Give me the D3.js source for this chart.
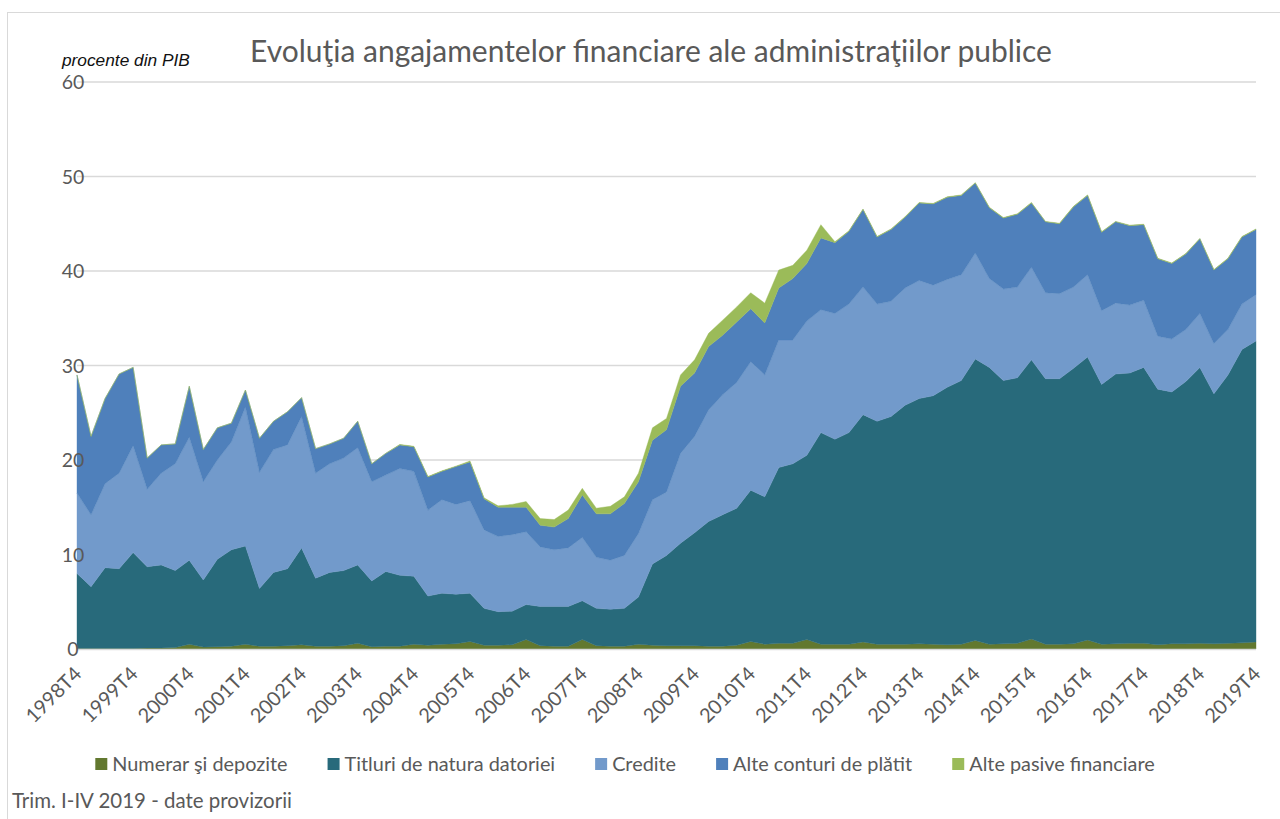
<!DOCTYPE html>
<html>
<head>
<meta charset="utf-8">
<script src="https://cdn.jsdelivr.net/npm/d3@7/dist/d3.min.js"></script>
<style>
body { margin: 0; background: #fff; }
svg { display: block; }
text { font-family: Lato, "Open Sans", sans-serif; fill: #595959; }
</style>
</head>
<body>
<svg class="chart"></svg>
<script>
var width = 1280,
    height = 819;

// quarters 1998T4 .. 2019T4
var quarters = ["1998T4"];
for (var yr = 1999; yr <= 2019; yr++) {
  for (var q = 1; q <= 4; q++) quarters.push(yr + "T" + q);
}

var tickLabels = ["1998T4", "1999T4", "2000T4", "2001T4", "2002T4", "2003T4", "2004T4",
  "2005T4", "2006T4", "2007T4", "2008T4", "2009T4", "2010T4", "2011T4", "2012T4",
  "2013T4", "2014T4", "2015T4", "2016T4", "2017T4", "2018T4", "2019T4"];

var yTicks = [0, 10, 20, 30, 40, 50, 60];

var seriesNames = ["Numerar şi depozite", "Titluri de natura datoriei", "Credite",
  "Alte conturi de plătit", "Alte pasive financiare"];

var numerar = [0.05,0.05,0.05,0.05,0.05,0.1,0.1,0.15,0.5,0.2,
  0.25,0.3,0.5,0.3,0.3,0.35,0.45,0.3,0.3,0.35,
  0.6,0.25,0.3,0.3,0.5,0.4,0.5,0.55,0.8,0.4,
  0.4,0.45,1.0,0.35,0.3,0.3,1.0,0.35,0.3,0.3,
  0.5,0.4,0.35,0.35,0.35,0.3,0.3,0.4,0.8,0.5,
  0.6,0.6,1.0,0.5,0.5,0.5,0.75,0.5,0.5,0.5,
  0.55,0.5,0.45,0.5,0.9,0.5,0.55,0.6,1.05,0.5,
  0.5,0.55,0.95,0.5,0.55,0.6,0.6,0.45,0.55,0.55,
  0.6,0.55,0.6,0.65,0.75];

var titluri = [7.95,6.55,8.55,8.45,10.15,8.6,8.8,8.15,8.9,7.1,
  9.25,10.2,10.4,6.1,7.8,8.15,10.25,7.2,7.8,7.95,
  8.3,6.95,7.9,7.5,7.2,5.2,5.4,5.25,5.1,3.9,
  3.55,3.55,3.7,4.15,4.2,4.2,4.1,3.95,3.9,4.0,
  5.0,8.6,9.55,10.85,11.95,13.2,13.9,14.5,16.0,15.6,
  18.6,19.0,19.5,22.4,21.7,22.4,24.05,23.6,24.1,25.3,
  25.95,26.3,27.25,27.9,29.8,29.3,27.85,28.1,29.55,28.1,
  28.1,29.15,29.95,27.5,28.55,28.6,29.2,27.05,26.65,27.75,
  29.2,26.45,28.4,31.05,31.85];

var credite = [8.5,7.6,8.9,10.1,11.3,8.2,9.7,11.3,13.0,10.4,
  10.5,11.4,14.7,12.3,13.0,13.1,13.9,11.1,11.5,11.9,
  12.4,10.5,10.2,11.3,11.1,9.1,9.9,9.5,9.8,8.3,
  7.95,8.1,7.7,6.3,6.0,6.2,6.7,5.4,5.2,5.6,
  6.7,6.8,6.7,9.5,10.2,11.8,12.7,13.3,13.6,12.9,
  13.5,13.1,14.2,13.0,13.3,13.6,13.5,12.4,12.2,12.4,
  12.5,11.7,11.4,11.2,11.2,9.4,9.7,9.6,9.8,9.1,
  9.0,8.6,8.7,7.8,7.5,7.2,7.1,5.6,5.6,5.5,
  5.7,5.3,4.8,4.8,4.9];

var alteConturi = [12.5,8.3,9.0,10.5,8.3,3.3,3.0,2.1,5.4,3.4,
  3.4,2.0,1.8,3.6,3.0,3.5,2.0,2.6,2.1,2.1,
  2.8,1.9,2.3,2.5,2.6,3.5,3.0,4.0,4.1,3.3,
  3.1,2.9,2.6,2.3,2.4,3.1,4.5,4.6,4.9,5.5,
  5.5,6.3,6.6,7.1,6.7,6.7,6.3,6.4,5.6,5.5,
  5.5,6.5,6.1,7.6,7.5,7.7,8.2,7.1,7.6,7.5,
  8.2,8.6,8.7,8.4,7.4,7.5,7.5,7.7,6.8,7.5,
  7.4,8.5,8.4,8.3,8.6,8.4,8.0,8.2,8.0,8.0,
  7.9,7.8,7.5,7.1,6.9];

var altePasive = [0,0,0,0,0,0,0,0,0,0,
  0,0,0,0,0,0,0,0,0,0,
  0,0,0,0.05,0.05,0.05,0.05,0.05,0.1,0.1,
  0.15,0.3,0.6,0.7,0.8,0.9,0.7,0.6,0.8,0.7,
  0.9,1.3,1.2,1.2,1.4,1.4,1.6,1.6,1.7,2.1,
  1.9,1.4,1.4,1.4,0.1,0.05,0.05,0.05,0.05,0.05,
  0.05,0.05,0.05,0.05,0.05,0.05,0.05,0.05,0.05,0.05,
  0.05,0.05,0.05,0.05,0.05,0.05,0.05,0.05,0.05,0.05,
  0.05,0.05,0.05,0.05,0.05];

var colors = ["#62782f", "#286a7b", "#729acb", "#4f80bb", "#9bbb59"];

var table = quarters.map(function(q, i) {
  return {
    quarter: q,
    "Numerar şi depozite": numerar[i],
    "Titluri de natura datoriei": titluri[i],
    "Credite": credite[i],
    "Alte conturi de plătit": alteConturi[i],
    "Alte pasive financiare": altePasive[i]
  };
});

var margin = {top: 82, left: 77, right: 1256, bottom: 649};

var x = d3.scalePoint()
    .domain(quarters)
    .range([margin.left, margin.right]);
var y = d3.scaleLinear()
    .domain([0, 60])
    .range([margin.bottom, margin.top]);

var chart = d3.select(".chart")
    .attr("width", width)
    .attr("height", height);

// outer frame
chart.append("rect")
    .attr("x", 7.5).attr("y", 12.5)
    .attr("width", 1300).attr("height", 900)
    .attr("fill", "none")
    .attr("stroke", "#d9d9d9");

// base font size (Calibri 16pt substitute), scaled so legend widths match
var probe = chart.append("text").style("font-size", "21.3px").text(seriesNames.join(""));
var base = 21.3 * 812 / probe.node().getComputedTextLength();
probe.remove();

// gridlines
chart.append("g")
  .selectAll("line")
    .data(yTicks.slice(1))
  .enter().append("line")
    .attr("x1", margin.left).attr("x2", margin.right)
    .attr("y1", function(d) { return y(d); })
    .attr("y2", function(d) { return y(d); })
    .attr("stroke", "#d9d9d9")
    .attr("stroke-width", 1.3);

var stack = d3.stack().keys(seriesNames);
var layers = stack(table);

var area = d3.area()
    .x(function(d) { return x(d.data.quarter); })
    .y0(function(d) { return y(d[0]); })
    .y1(function(d) { return y(d[1]); });

chart.append("g")
  .selectAll("path")
    .data(layers)
  .enter().append("path")
    .attr("d", area)
    .attr("fill", function(d, i) { return colors[i]; })
    .attr("stroke", function(d, i) { return colors[i]; })
    .attr("stroke-width", 0.4);

// baseline
chart.append("line")
    .attr("x1", margin.left).attr("x2", margin.right)
    .attr("y1", y(0) + 0.5).attr("y2", y(0) + 0.5)
    .attr("stroke", "#d9d9d9")
    .attr("stroke-width", 1.3);

// y axis labels
chart.append("g")
  .selectAll("text")
    .data(yTicks)
  .enter().append("text")
    .attr("x", 73)
    .attr("y", function(d) { return y(d); })
    .attr("dy", "0.36em")
    .attr("text-anchor", "middle")
    .style("font-size", base * 0.98 + "px")
    .text(function(d) { return d; });

// x axis labels
chart.append("g")
  .selectAll("text")
    .data(tickLabels)
  .enter().append("text")
    .attr("text-anchor", "end")
    .attr("transform", function(d) {
      return "translate(" + (x(d) + 6) + "," + (y(0) + 26) + ") rotate(-45)";
    })
    .style("font-size", base + "px")
    .text(function(d) { return d; });

// title
var title = chart.append("text")
    .attr("x", 651)
    .attr("y", 62)
    .attr("text-anchor", "middle")
    .style("font-size", "26px")
    .text("Evoluţia angajamentelor financiare ale administraţiilor publice");
title.style("font-size", 26 * 802 / title.node().getComputedTextLength() + "px");

chart.append("text")
    .attr("x", 62)
    .attr("y", 66)
    .style("font-family", "'Liberation Sans', Arial, sans-serif")
    .style("font-style", "italic")
    .style("font-size", "17.3px")
    .style("fill", "#111")
    .text("procente din PIB");

// legend
var legend = chart.append("g");
var lx = 0;
seriesNames.forEach(function(name, i) {
  var item = legend.append("g").attr("transform", "translate(" + lx + ",0)");
  item.append("rect")
      .attr("x", 0).attr("y", -6)
      .attr("width", 12).attr("height", 12)
      .attr("fill", colors[i]);
  var t = item.append("text")
      .attr("x", 17)
      .attr("dy", "0.35em")
      .style("font-size", base + "px")
      .text(name);
  lx += 17 + t.node().getComputedTextLength() + 40;
});
lx -= 40;
legend.attr("transform", "translate(" + (625 - lx / 2) + ",764)");

chart.append("text")
    .attr("x", 12)
    .attr("y", 808)
    .style("font-size", base * 1.03 + "px")
    .text("Trim. I-IV 2019 - date provizorii");
</script>
</body>
</html>
